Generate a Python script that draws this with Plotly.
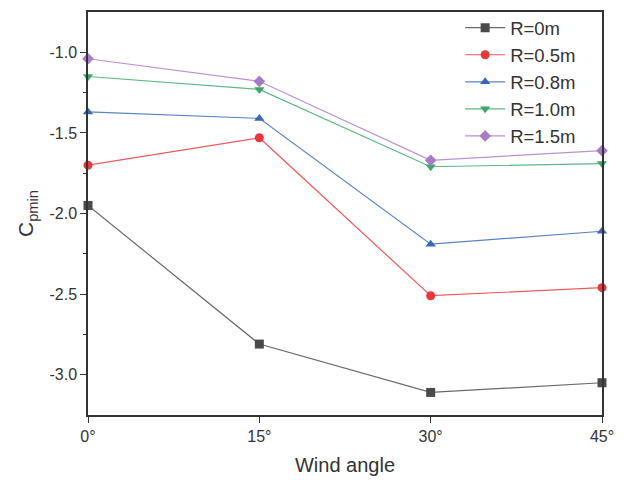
import plotly.graph_objects as go

angles = [0, 15, 30, 45]
tick_labels = ["0°", "15°", "30°", "45°"]
series_names = ["R=0m", "R=0.5m", "R=0.8m", "R=1.0m", "R=1.5m"]
r0 = [-1.95, -2.81, -3.11, -3.05]
r05 = [-1.70, -1.53, -2.51, -2.46]
r08 = [-1.37, -1.41, -2.19, -2.11]
r10 = [-1.15, -1.23, -1.71, -1.69]
r15 = [-1.04, -1.18, -1.67, -1.61]

colors = ["#4a4a4a", "#e8383b", "#3a66b8", "#3da76a", "#a77cc6"]
line_colors = ["#6a6a6a", "#ee5a5c", "#5b82c6", "#5cb884", "#b892d2"]
symbols = ["square", "circle", "triangle-up", "triangle-down", "diamond"]

fig = go.Figure()
for name, vals, c, lc, s in zip(series_names, [r0, r05, r08, r10, r15], colors, line_colors, symbols):
    fig.add_trace(go.Scatter(
        x=angles, y=vals, name=name, mode="lines+markers",
        line=dict(color=lc, width=1.2),
        marker=dict(symbol=s, size=9, color=c),
        cliponaxis=False,
    ))

fig.update_layout(
    width=627, height=482,
    margin=dict(l=88, r=25, t=9, b=65),
    paper_bgcolor="white", plot_bgcolor="white",
    font=dict(family="Liberation Sans, Arial, sans-serif", color="#333333"),
    legend=dict(x=0.724, y=1.007, xanchor="left", yanchor="top",
                font=dict(size=18.5, color="#333333"), bgcolor="rgba(0,0,0,0)",
                tracegroupgap=0, itemwidth=40),
    showlegend=True,
)
fig.update_xaxes(
    range=[0, 45], tickvals=angles, ticktext=tick_labels,
    showline=True, linecolor="#333333", linewidth=1.5, mirror=True,
    ticks="outside", ticklen=6, tickcolor="#333333", tickwidth=1.2,
    showgrid=False, zeroline=False,
    tickfont=dict(size=16),
    title=dict(text="Wind angle", font=dict(size=20), standoff=14),
)
fig.update_yaxes(
    range=[-3.25, -0.75], tickvals=[-1.0, -1.5, -2.0, -2.5, -3.0],
    ticktext=["-1.0", "-1.5", "-2.0", "-2.5", "-3.0"],
    showline=True, linecolor="#333333", linewidth=1.5, mirror=True,
    ticks="outside", ticklen=6, tickcolor="#333333", tickwidth=1.2,
    minor=dict(tickvals=[-1.25, -1.75, -2.25, -2.75], ticks="outside", ticklen=3, tickcolor="#333333"),
    showgrid=False, zeroline=False,
    tickfont=dict(size=16),
    title=dict(text="C<sub>pmin</sub>", font=dict(size=21), standoff=10),
)

fig.write_html("out.html")
